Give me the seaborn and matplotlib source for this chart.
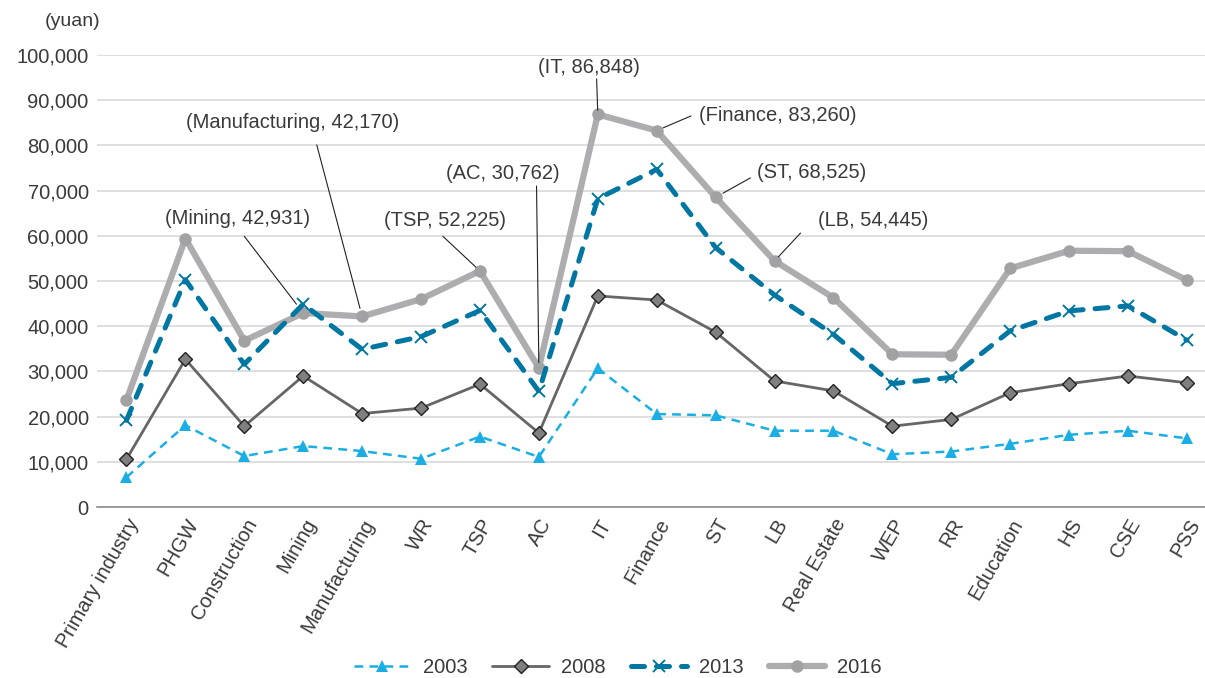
"""Average wage by industry, 2003-2016, recreated with seaborn."""

import matplotlib

matplotlib.use("Agg")
import matplotlib.pyplot as plt
import pandas as pd
import seaborn as sns
from matplotlib.ticker import FuncFormatter

categories = [
    "Primary industry", "PHGW", "Construction", "Mining", "Manufacturing",
    "WR", "TSP", "AC", "IT", "Finance", "ST", "LB", "Real Estate", "WEP",
    "RR", "Education", "HS", "CSE", "PSS",
]

wage_2003 = [6600, 18100, 11300, 13500, 12400, 10700, 15600, 11100, 30700,
             20600, 20300, 16900, 16900, 11700, 12300, 14000, 16000, 16900, 15200]
wage_2008 = [10600, 32700, 17900, 29000, 20700, 21900, 27200, 16400, 46700,
             45800, 38700, 27900, 25700, 17900, 19400, 25300, 27300, 29000, 27500]
wage_2013 = [19200, 50300, 31600, 44900, 34900, 37700, 43500, 25600, 68200,
             74700, 57400, 46900, 38200, 27300, 28700, 39000, 43400, 44500, 36900]
wage_2016 = [23700, 59400, 36800, 42931, 42170, 46000, 52225, 30762, 86848,
             83260, 68525, 54445, 46300, 33800, 33700, 52800, 56700, 56600, 50200]

# callout: category index, label, text centre (x, y), leader start (x, y), gap at point (pt)
callouts = [
    (3, "(Mining, 42,931)", (1.88, 63900), (2.00, 59900), 8),
    (4, "(Manufacturing, 42,170)", (2.82, 85000), (3.23, 80100), 6),
    (6, "(TSP, 52,225)", (5.40, 63300), (5.37, 59900), 4),
    (7, "(AC, 30,762)", (6.39, 73800), (6.96, 71000), 4),
    (8, "(IT, 86,848)", (7.85, 97300), (7.98, 94700), 3),
    (9, "(Finance, 83,260)", (11.05, 86500), (9.58, 86500), 5),
    (10, "(ST, 68,525)", (11.63, 74000), (10.59, 72800), 6),
    (11, "(LB, 54,445)", (12.67, 63300), (11.44, 60600), 4),
]


def main() -> None:
    sns.set_theme(style="white")
    plt.rcParams["font.family"] = ["Liberation Sans", "DejaVu Sans"]
    text_color = "#3a3a3a"

    fig = plt.figure(figsize=(12.05, 6.78), dpi=100)
    ax = fig.add_axes([0.0805, 0.252, 0.929, 0.667])

    df = pd.DataFrame({
        "category": categories,
        "2003": wage_2003,
        "2008": wage_2008,
        "2013": wage_2013,
        "2016": wage_2016,
    })
    df["pos"] = range(len(categories))

    sns.lineplot(data=df, x="pos", y="2016", ax=ax, color="#adadb0",
                 linewidth=4.5, marker="o", markersize=9, markeredgewidth=0,
                 markerfacecolor="#a2a2a5", label="2016", zorder=2)
    sns.lineplot(data=df, x="pos", y="2013", ax=ax, color="#0077a3",
                 linewidth=3.6, dashes=(2.6, 2.4), dash_capstyle="round",
                 marker="x", markersize=9, markeredgewidth=1.4,
                 markeredgecolor="#0077a3", label="2013", zorder=3)
    sns.lineplot(data=df, x="pos", y="2008", ax=ax, color="#666666",
                 linewidth=2, marker="D", markersize=7, markerfacecolor="#7f7f7f",
                 markeredgecolor="#222222", markeredgewidth=1, label="2008", zorder=4)
    sns.lineplot(data=df, x="pos", y="2003", ax=ax, color="#1aaee5",
                 linewidth=1.8, dashes=(3.5, 2.5), marker="^", markersize=8,
                 markeredgewidth=0, label="2003", zorder=5)

    for idx, label, text_xy, start_xy, gap in callouts:
        ax.annotate(
            "", xy=(idx, wage_2016[idx]), xytext=start_xy,
            arrowprops=dict(arrowstyle="-", color="#222222", lw=0.8,
                            shrinkA=0, shrinkB=gap),
        )
        ax.text(*text_xy, label, ha="center", va="center", fontsize=14.5,
                color=text_color)

    ax.set_xlim(-0.5, len(categories) - 0.5)
    ax.set_ylim(0, 100000)
    ax.set_yticks(range(0, 100001, 10000))
    ax.yaxis.set_major_formatter(FuncFormatter(lambda v, _: f"{int(v):,}"))
    ax.set_xticks(range(len(categories)))
    ax.set_xticklabels(categories, rotation=60, ha="right", rotation_mode="anchor")
    ax.tick_params(axis="both", length=0, labelsize=14.5, colors=text_color, pad=6)
    ax.set_xlabel("")
    ax.set_ylabel("")
    ax.grid(axis="y", color="#d9d9d9", linewidth=1.2)
    ax.set_axisbelow(True)
    for side in ["top", "right", "left"]:
        ax.spines[side].set_visible(False)
    ax.spines["bottom"].set_color("#8c8c8c")
    ax.spines["bottom"].set_linewidth(1.2)

    fig.text(0.037, 0.968, "(yuan)", fontsize=14, color=text_color, va="center")

    handles, labels = ax.get_legend_handles_labels()
    order = [labels.index(y) for y in ["2003", "2008", "2013", "2016"]]
    ax.legend([handles[i] for i in order], [labels[i] for i in order],
              loc="center", bbox_to_anchor=(0.513, 0.016), bbox_transform=fig.transFigure,
              ncol=4, frameon=False, fontsize=14.5, handlelength=2.8,
              handletextpad=0.6, columnspacing=1.25, labelcolor=text_color)

    fig.savefig("out.png", dpi=100)
    plt.close(fig)


if __name__ == "__main__":
    main()
